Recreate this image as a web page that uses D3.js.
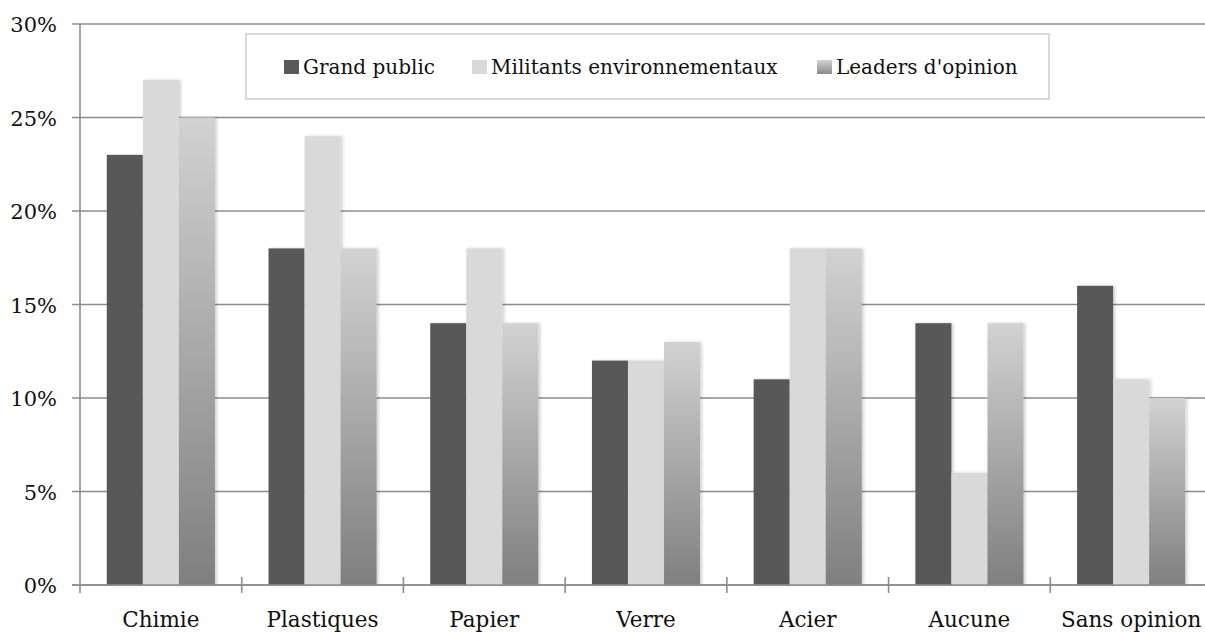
<!DOCTYPE html>
<html>
<head>
<meta charset="utf-8">
<script src="https://cdn.jsdelivr.net/npm/d3@7"></script>
<style>
  body { margin: 0; background: #fff; }
  svg text { font-family: "DejaVu Serif", "Liberation Serif", serif; fill: #111; }
</style>
</head>
<body>
<svg width="1205" height="632"></svg>
<script>
const categories = ["Chimie", "Plastiques", "Papier", "Verre", "Acier", "Aucune", "Sans opinion"];
const seriesNames = ["Grand public", "Militants environnementaux", "Leaders d'opinion"];
const grandPublic = [23, 18, 14, 12, 11, 14, 16];
const militants = [27, 24, 18, 12, 18, 6, 11];
const leaders = [25, 18, 14, 13, 18, 14, 10];
const yTicks = [0, 5, 10, 15, 20, 25, 30];

const series = [grandPublic, militants, leaders];
const fills = ["#595959", "#d9d9d9", "url(#grad)"];

const svg = d3.select("svg");
const plotLeft = 80, plotRight = 1212, plotTop = 24, plotBottom = 585;

const defs = svg.append("defs");
const grad = defs.append("linearGradient").attr("id", "grad")
  .attr("x1", 0).attr("y1", 0).attr("x2", 0).attr("y2", 1);
grad.append("stop").attr("offset", "0%").attr("stop-color", "#d2d2d2");
grad.append("stop").attr("offset", "100%").attr("stop-color", "#7f7f7f");
const lgrad = defs.append("linearGradient").attr("id", "lgrad")
  .attr("x1", 0).attr("y1", 0).attr("x2", 0).attr("y2", 1);
lgrad.append("stop").attr("offset", "0%").attr("stop-color", "#d2d2d2");
lgrad.append("stop").attr("offset", "100%").attr("stop-color", "#8a8a8a");
const shadow = defs.append("filter").attr("id", "shadow")
  .attr("x", "-20%").attr("y", "-5%").attr("width", "150%").attr("height", "110%");
shadow.append("feDropShadow").attr("dx", 2).attr("dy", 0).attr("stdDeviation", 1.5)
  .attr("flood-color", "#000").attr("flood-opacity", 0.18);

const y = d3.scaleLinear().domain([0, 30]).range([plotBottom, plotTop]);
const x = d3.scaleBand().domain(categories).range([plotLeft, plotRight]);
const inner = d3.scaleBand().domain([0, 1, 2]).range([26.8, x.bandwidth() - 26.8]);

// gridlines + y labels
svg.append("g").selectAll("line").data(yTicks).join("line")
  .attr("x1", plotLeft - 8).attr("x2", 1205)
  .attr("y1", d => y(d)).attr("y2", d => y(d))
  .attr("stroke", "#8c8c8c").attr("stroke-width", 1.6);

svg.append("g").selectAll("text").data(yTicks).join("text")
  .attr("x", 57).attr("y", d => y(d) + 8)
  .attr("text-anchor", "end").attr("font-size", 21)
  .text(d => d + "%");

// bars
const groups = svg.append("g").selectAll("g").data(categories).join("g")
  .attr("transform", c => `translate(${x(c)},0)`);
groups.selectAll("rect").data((c, i) => series.map((s, k) => ({ k, v: s[i] }))).join("rect")
  .attr("x", d => inner(d.k))
  .attr("width", inner.bandwidth())
  .attr("y", d => y(d.v))
  .attr("height", d => y(0) - y(d.v))
  .attr("fill", d => fills[d.k])
  .attr("filter", "url(#shadow)");

// axes lines
svg.append("line").attr("x1", plotLeft).attr("x2", plotLeft).attr("y1", plotTop).attr("y2", plotBottom + 8)
  .attr("stroke", "#8c8c8c").attr("stroke-width", 1.6);
svg.append("line").attr("x1", plotLeft - 8).attr("x2", 1205).attr("y1", plotBottom).attr("y2", plotBottom)
  .attr("stroke", "#8c8c8c").attr("stroke-width", 1.6);
svg.append("g").selectAll("line").data(categories.slice(1)).join("line")
  .attr("x1", c => x(c)).attr("x2", c => x(c))
  .attr("y1", plotBottom - 8).attr("y2", plotBottom + 8)
  .attr("stroke", "#8c8c8c").attr("stroke-width", 1.6);

svg.append("g").selectAll("text").data(categories).join("text")
  .attr("x", c => x(c) + x.bandwidth() / 2).attr("y", 627)
  .attr("text-anchor", "middle").attr("font-size", 21.5)
  .text(c => c);

// legend
const legend = svg.append("g");
legend.append("rect").attr("x", 246).attr("y", 34).attr("width", 803).attr("height", 65)
  .attr("fill", "#fff").attr("stroke", "#d9d9d9").attr("stroke-width", 2);
const legendX = [284, 472, 817];
const legendFills = ["#595959", "#d9d9d9", "url(#lgrad)"];
const items = legend.selectAll("g").data(seriesNames).join("g")
  .attr("transform", (d, i) => `translate(${legendX[i]},0)`);
items.append("rect").attr("x", 0).attr("y", 60).attr("width", 15).attr("height", 14)
  .attr("fill", (d, i) => legendFills[i]);
items.append("text").attr("x", 19).attr("y", 74).attr("font-size", 20).text(d => d);
</script>
</body>
</html>
